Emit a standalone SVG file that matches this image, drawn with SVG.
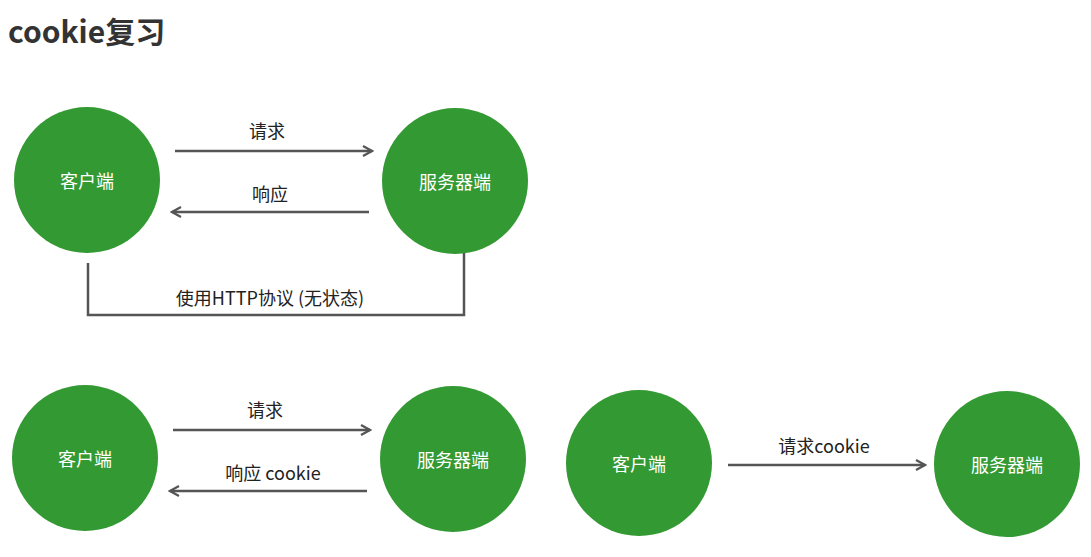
<svg xmlns="http://www.w3.org/2000/svg" width="1091" height="557" viewBox="0 0 1091 557">
<style>
.n{fill:#339933}
.t{font-family:"Noto Sans CJK SC","Noto Sans",sans-serif;font-size:18px;fill:#fff;text-anchor:middle;dominant-baseline:central}
.l{font-family:"Noto Sans CJK SC","Noto Sans",sans-serif;font-size:18px;fill:#222;text-anchor:middle}
.c{stroke:#555;stroke-width:2.5;fill:none}
</style>
<defs><marker id="a" markerWidth="12" markerHeight="12" refX="10" refY="6" orient="auto" markerUnits="userSpaceOnUse"><path d="M1,1 L10,6 L1,11" fill="none" stroke="#555" stroke-width="2.2"/></marker></defs>
<rect width="1091" height="557" fill="#fff"/>
<text x="8" y="43" font-family="'Noto Sans CJK SC','Noto Sans',sans-serif" font-size="30" font-weight="bold" fill="#333">cookie复习</text>
<g id="c1"><circle class="n" cx="87" cy="180" r="73"/><text class="t" x="87" y="180">客户端</text></g>
<g id="s1"><circle class="n" cx="455" cy="181" r="73"/><text class="t" x="455" y="181">服务器端</text></g>
<g id="c2"><circle class="n" cx="85" cy="458" r="73"/><text class="t" x="85" y="458">客户端</text></g>
<g id="s2"><circle class="n" cx="453" cy="459" r="73"/><text class="t" x="453" y="459">服务器端</text></g>
<g id="c3"><circle class="n" cx="639" cy="463" r="73"/><text class="t" x="639" y="463">客户端</text></g>
<g id="s3"><circle class="n" cx="1007" cy="464" r="73"/><text class="t" x="1007" y="464">服务器端</text></g>
<g id="connectors">
<path class="c" d="M175,151 H372" marker-end="url(#a)"/>
<path class="c" d="M369,212 H172" marker-end="url(#a)"/>
<path class="c" d="M88,263 V315 H464 V253"/>
<path class="c" d="M173,430 H370" marker-end="url(#a)"/>
<path class="c" d="M367,491 H170" marker-end="url(#a)"/>
<path class="c" d="M728,465 H925" marker-end="url(#a)"/>
<text class="l" x="267" y="138">请求</text>
<text class="l" x="270" y="201">响应</text>
<text class="l" x="270" y="305">使用HTTP协议 (无状态)</text>
<text class="l" x="265" y="417">请求</text>
<text class="l" x="273" y="480">响应 cookie</text>
<text class="l" x="824" y="453">请求cookie</text>
</g>
</svg>
